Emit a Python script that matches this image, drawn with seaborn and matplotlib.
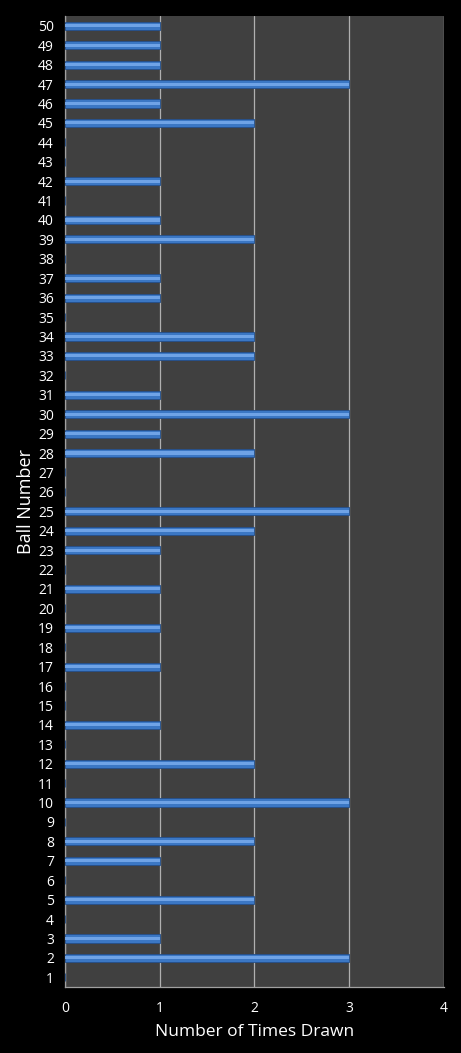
import pandas as pd
import matplotlib
matplotlib.use("Agg")
import matplotlib.pyplot as plt
import seaborn as sns

# Ball numbers and how often each was drawn
balls = list(range(1, 51))
times_drawn = [
    0, 3, 1, 0, 2, 0, 1, 2, 0, 3,
    0, 2, 0, 1, 0, 0, 1, 0, 1, 0,
    1, 0, 1, 2, 3, 0, 0, 2, 1, 3,
    1, 0, 2, 2, 0, 1, 1, 0, 2, 1,
    0, 1, 0, 0, 2, 1, 3, 1, 1, 1,
]
x_ticks = [0, 1, 2, 3, 4]

data = pd.DataFrame({'Ball': [str(b) for b in balls], 'Times': times_drawn})
order = [str(b) for b in reversed(balls)]

sns.set_style("dark")
plt.rcParams['font.family'] = ['Open Sans', 'DejaVu Sans']

fig = plt.figure(figsize=(4.61, 10.53), dpi=100, facecolor='black')
ax = fig.add_axes([0.141, 0.0627, 0.822, 0.922])
ax.set_facecolor('#404040')

# main bar body
sns.barplot(data=data, x='Times', y='Ball', order=order, orient='h',
            color='#3b77c4', edgecolor='#244f8a', linewidth=0.6,
            width=0.42, saturation=1, ax=ax, zorder=3)
# highlight stripe for the bevelled look
sns.barplot(data=data, x='Times', y='Ball', order=order, orient='h',
            color='#6fa3e6', linewidth=0, width=0.16,
            saturation=1, ax=ax, zorder=4)

ax.set_xlim(0, 4)
ax.set_xticks(x_ticks)
ax.grid(axis='x', color='#b0b0b0', linewidth=0.9, zorder=1)
ax.grid(axis='y', visible=False)
ax.set_axisbelow(True)

for side in ['top', 'right']:
    ax.spines[side].set_visible(False)
for side in ['left', 'bottom']:
    ax.spines[side].set_color('#a0a0a0')
    ax.spines[side].set_linewidth(0.9)

ax.tick_params(axis='both', colors='white', labelsize=10, length=0)
ax.tick_params(axis='x', pad=10)
ax.tick_params(axis='y', pad=8)

ax.set_xlabel('Number of Times Drawn', color='white', fontsize=12.5, labelpad=6)
ax.set_ylabel('Ball Number', color='white', fontsize=13, labelpad=2)

fig.savefig('out.png', dpi=100, facecolor='black')
